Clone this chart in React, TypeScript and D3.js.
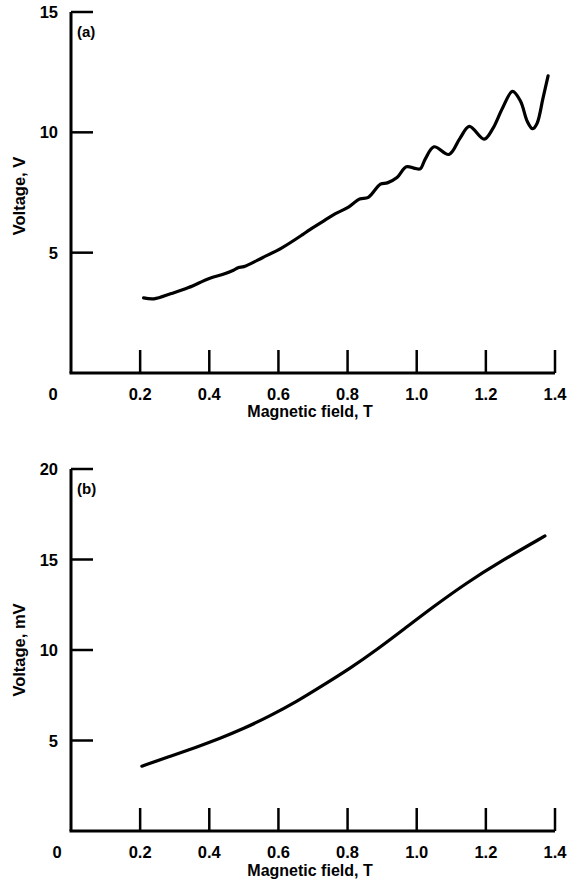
import React from "react";
import * as d3 from "d3";

const xTicks = [0.2, 0.4, 0.6, 0.8, 1.0, 1.2, 1.4];
const xTickLabels = ["0.2", "0.4", "0.6", "0.8", "1.0", "1.2", "1.4"];
const topYTicks = [5, 10, 15];
const bottomYTicks = [5, 10, 15, 20];

const topField = [0.21, 0.24, 0.29, 0.34, 0.40, 0.44, 0.47, 0.485, 0.50, 0.555, 0.61, 0.67, 0.69, 0.74, 0.765, 0.80, 0.835, 0.86, 0.895, 0.915, 0.943, 0.97, 0.995, 1.01, 1.025, 1.05, 1.093, 1.125, 1.152, 1.195, 1.22, 1.248, 1.277, 1.30, 1.32, 1.335, 1.348, 1.365, 1.38];
const topVoltage = [3.12, 3.08, 3.3, 3.55, 3.93, 4.1, 4.27, 4.38, 4.42, 4.8, 5.2, 5.75, 5.95, 6.4, 6.62, 6.87, 7.23, 7.3, 7.85, 7.9, 8.12, 8.57, 8.5, 8.48, 8.9, 9.4, 9.08, 9.75, 10.25, 9.72, 10.15, 11.0, 11.7, 11.3, 10.45, 10.15, 10.37, 11.4, 12.35];

const bottomField = [0.205, 0.286, 0.364, 0.431, 0.498, 0.576, 0.654, 0.729, 0.807, 0.885, 0.965, 1.047, 1.145, 1.241, 1.371];
const bottomVoltage = [3.58, 4.12, 4.64, 5.12, 5.64, 6.36, 7.16, 8.05, 8.98, 10.02, 11.18, 12.38, 13.72, 14.88, 16.3];

const FONT = "'Liberation Sans', Arial, Helvetica, sans-serif";

type PanelProps = {
  yTop: number;
  yBottom: number;
  yMax: number;
  yTicks: number[];
  xs: number[];
  ys: number[];
  smooth: boolean;
  yTitle: string;
  yTitleCenter: number;
  tag: string;
  tagY: number;
  tickLabelY: number;
  titleY: number;
  zeroX: number;
};

function Panel(p: PanelProps) {
  const x = d3.scaleLinear().domain([0, 1.4]).range([71, 555]);
  const y = d3.scaleLinear().domain([0, p.yMax]).range([p.yBottom, p.yTop]);
  const pts = p.xs.map((v, i) => [v, p.ys[i]] as [number, number]);
  const line = d3
    .line<[number, number]>()
    .x((d) => x(d[0]))
    .y((d) => y(d[1]))
    .curve(p.smooth ? d3.curveBasis : d3.curveCatmullRom.alpha(0.5));
  const x0 = x(0);
  const y0 = y(0);
  return (
    <g>
      <path d={line(pts) || ""} fill="none" stroke="#000" strokeWidth={3.2} strokeLinejoin="round" strokeLinecap="round" />
      <line x1={x0} y1={y(p.yMax)} x2={x0} y2={y0} stroke="#000" strokeWidth={3} />
      <line x1={x0 - 1.5} y1={y0} x2={x(1.4)} y2={y0} stroke="#000" strokeWidth={3} />
      {p.yTicks.map((t) => (
        <g key={"yt" + t}>
          <line x1={x0} x2={x0 + 22} y1={y(t)} y2={y(t)} stroke="#000" strokeWidth={2.5} />
          <text x={58} y={y(t) + 6} textAnchor="end" fontFamily={FONT} fontWeight="bold" fontSize={16.5}>
            {t}
          </text>
        </g>
      ))}
      {xTicks.map((t, i) => (
        <g key={"xt" + t}>
          <line x1={x(t)} x2={x(t)} y1={y0} y2={y0 - 23} stroke="#000" strokeWidth={2.5} />
          <text x={x(t)} y={p.tickLabelY} textAnchor="middle" fontFamily={FONT} fontWeight="bold" fontSize={16.5}>
            {xTickLabels[i]}
          </text>
        </g>
      ))}
      <text x={p.zeroX} y={p.tickLabelY} textAnchor="middle" fontFamily={FONT} fontWeight="bold" fontSize={16.5}>
        0
      </text>
      <text x={310} y={p.titleY} textAnchor="middle" fontFamily={FONT} fontWeight="bold" fontSize={16}>
        Magnetic field, T
      </text>
      <text
        transform={`translate(25,${p.yTitleCenter}) rotate(-90)`}
        textAnchor="middle"
        fontFamily={FONT}
        fontWeight="bold"
        fontSize={16.5}
      >
        {p.yTitle}
      </text>
      <text x={77} y={p.tagY} fontFamily={FONT} fontWeight="bold" fontSize={15}>
        {p.tag}
      </text>
    </g>
  );
}

export default function App() {
  return (
    <svg width={567} height={888} style={{ position: "absolute", left: 0, top: 0, background: "#fff" }}>
      <rect width={567} height={888} fill="#fff" />
      <Panel
        yTop={12}
        yBottom={373}
        yMax={15}
        yTicks={topYTicks}
        xs={topField}
        ys={topVoltage}
        smooth={false}
        yTitle="Voltage, V"
        yTitleCenter={196}
        tag="(a)"
        tagY={37}
        tickLabelY={400}
        titleY={417}
        zeroX={53}
      />
      <Panel
        yTop={469}
        yBottom={831}
        yMax={20}
        yTicks={bottomYTicks}
        xs={bottomField}
        ys={bottomVoltage}
        smooth={true}
        yTitle="Voltage, mV"
        yTitleCenter={650}
        tag="(b)"
        tagY={494}
        tickLabelY={858}
        titleY={876}
        zeroX={57}
      />
    </svg>
  );
}
